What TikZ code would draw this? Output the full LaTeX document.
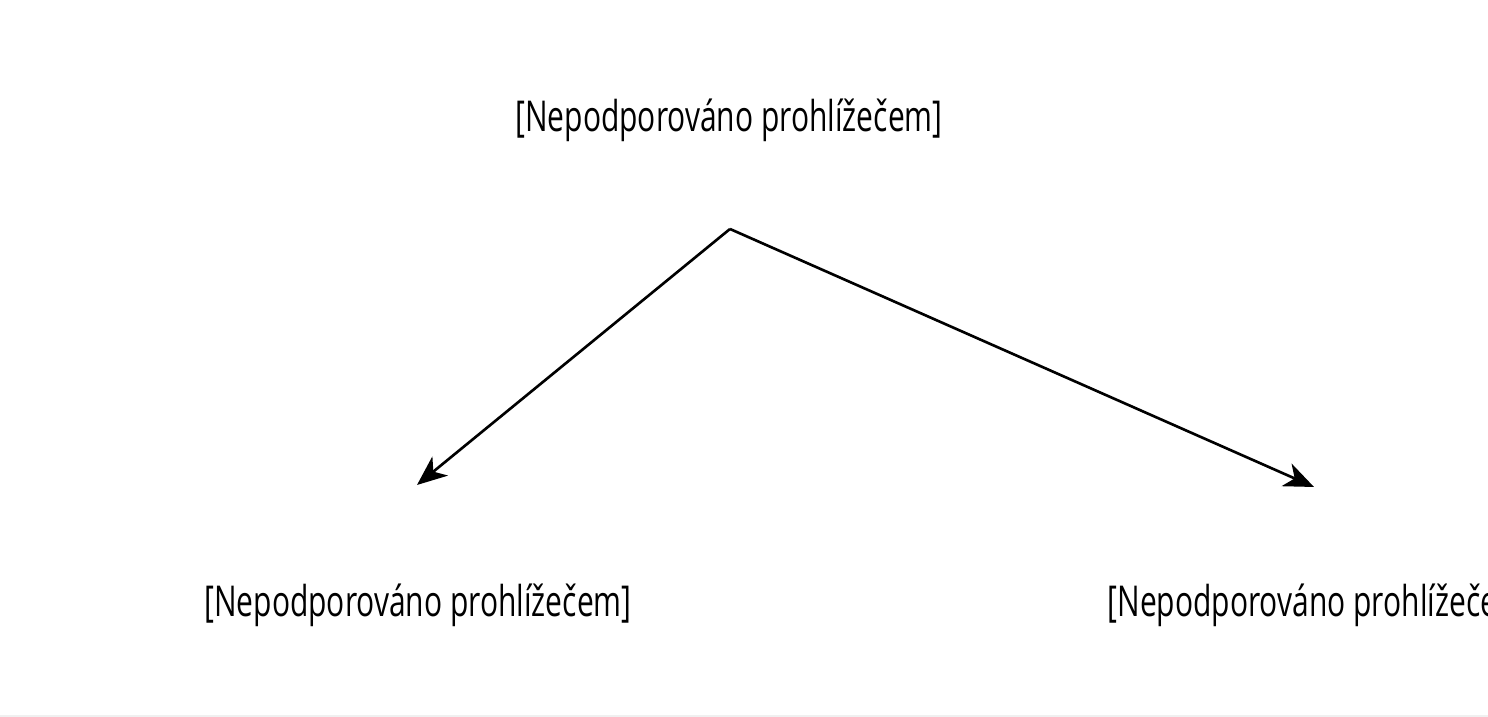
\documentclass[tikz,border=0pt]{standalone}
\usepackage{fontspec}
\setmainfont{Open Sans}[FakeStretch=0.705]
\usetikzlibrary{arrows.meta}
\tikzset{label text/.style={anchor=base, inner sep=0pt, font=\fontsize{12.1}{14}\selectfont},
  branch/.style={line width=0.75pt, -{Stealth[length=8.5pt, width=7pt, inset=2.5pt]}}}

\begin{document}
\begin{tikzpicture}
      \useasboundingbox (0, 0) rectangle (14.88, 7.17);
      \draw [black!6, line width=0.4pt] (0, 0.01) -- (14.88, 0.01);

      \node [label text] (top) at (7.29, 5.85) {[Nepodporováno prohlížečem]};
      \node [label text] (left) at (4.18, 1.00) {[Nepodporováno prohlížečem]};
      \node [label text, anchor=base west] (right) at (11.07, 1.00) {[Nepodporováno prohlížečem]};

      \coordinate (apex) at (7.30, 4.88);
      \coordinate (left tip) at (4.17, 2.32);
      \coordinate (right tip) at (13.14, 2.30);

      \draw [branch] (apex) -- (left tip);
      \draw [branch] (apex) -- (right tip);
    \end{tikzpicture}
\end{document}
